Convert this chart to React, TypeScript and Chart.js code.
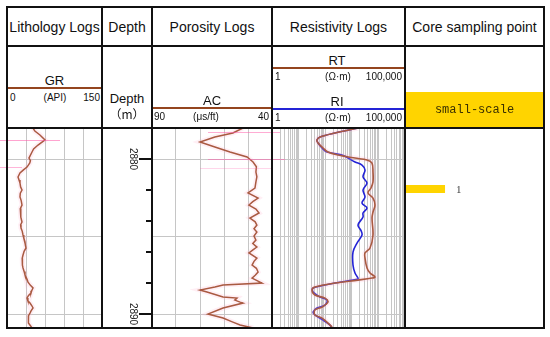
import React, { useEffect, useRef } from 'react';
import { Chart, registerables } from 'chart.js';

Chart.register(...registerables);

// ---------- data ----------
const DEPTH_TOP = 2878;
const DEPTH_BOTTOM = 2890.9;
const depthGrid = [2880, 2885, 2890];
const depthTicks = [2880, 2882, 2884, 2886, 2888, 2890];
const depthLabels = [2880, 2890];

const grGrid = [30, 60, 90, 120];
const acGrid = [50, 60, 70, 80];
const resDecades = [1, 10, 100, 1000, 10000];
const resSteps = [1, 2, 3, 4, 5, 6, 7, 8, 9];

const grDepth = [2878.0, 2878.2, 2878.45, 2878.77, 2879.1, 2879.35, 2879.55, 2879.94, 2880.1, 2880.26, 2880.52, 2880.7, 2880.9, 2881.16, 2881.35, 2881.55, 2881.8, 2882.0, 2882.2, 2882.45, 2882.7, 2882.97, 2883.2, 2883.48, 2883.75, 2884.06, 2884.25, 2884.45, 2884.65, 2884.9, 2885.1, 2885.35, 2885.55, 2885.74, 2885.95, 2886.19, 2886.4, 2886.65, 2886.85, 2887.03, 2887.25, 2887.48, 2887.7, 2887.94, 2888.15, 2888.32, 2888.5, 2888.65, 2888.8, 2888.97, 2889.15, 2889.29, 2889.45, 2889.61, 2889.8, 2889.94, 2890.1, 2890.26, 2890.45, 2890.58, 2890.75, 2890.9];
const grValue = [41, 44, 52, 60, 49, 42, 39.5, 34.7, 37, 36, 31.6, 26, 20.5, 17.4, 19, 20.5, 21.5, 23.7, 21, 20.5, 22.5, 23.7, 21, 22.1, 21.5, 23.7, 21.5, 22.1, 24, 25.3, 26.5, 28.4, 29, 30, 27, 25.3, 24, 23.7, 25, 25.3, 27, 28.4, 31, 33.2, 37, 41.1, 39, 37.9, 34, 31.6, 33, 36.3, 39, 41.1, 38, 36.3, 34, 33.2, 33.5, 34.7, 37, 39.5];

const acDepth = [2878.0, 2878.32, 2878.58, 2878.9, 2879.23, 2879.55, 2879.87, 2880.19, 2880.5, 2880.84, 2881.15, 2881.48, 2881.87, 2882.19, 2882.52, 2882.75, 2882.97, 2883.23, 2883.48, 2883.81, 2884.05, 2884.26, 2884.5, 2884.71, 2884.97, 2885.23, 2885.45, 2885.68, 2885.85, 2886.06, 2886.39, 2886.6, 2886.84, 2887.05, 2887.29, 2887.5, 2887.68, 2888.0, 2888.13, 2888.26, 2888.45, 2888.58, 2888.9, 2888.97, 2889.1, 2889.23, 2889.29, 2889.61, 2890.0, 2890.26, 2890.52, 2890.71, 2890.9];
const acValue = [52.1, 56.3, 63.8, 70.0, 63.8, 57.5, 50.4, 47.9, 46.5, 46.7, 46.3, 46.7, 47.1, 50.0, 45.8, 48, 49.6, 46.7, 45.4, 49.2, 47, 46.3, 47.5, 46.3, 47.5, 46.7, 48, 46.3, 47.8, 49.6, 46.3, 47.5, 48.3, 46.5, 45.8, 47, 48.3, 44.2, 60.4, 63.8, 70.0, 67.1, 60.4, 54.6, 55.5, 53.3, 52.1, 60.4, 66.7, 60.4, 56.3, 53.3, 47.9];

const rtDepth = [2878.0, 2878.32, 2878.58, 2878.77, 2878.97, 2879.29, 2879.55, 2879.74, 2879.94, 2880.06, 2880.26, 2880.84, 2881.48, 2881.87, 2882.19, 2882.52, 2882.97, 2883.42, 2883.81, 2884.9, 2885.74, 2886.06, 2886.39, 2887.03, 2887.35, 2887.61, 2887.68, 2887.81, 2888.0, 2888.26, 2888.45, 2888.77, 2888.97, 2889.23, 2889.55, 2889.74, 2890.06, 2890.26, 2890.58, 2890.84];
const rtValue = [1710, 234, 64, 49, 54, 83, 127, 303, 1320, 3730, 5750, 6270, 6270, 5270, 4060, 6270, 7450, 6270, 5750, 6270, 4830, 3140, 3140, 3730, 4830, 7450, 5750, 1710, 234, 41, 32, 41, 98, 127, 76, 41, 41, 76, 127, 180];

const riDepth = [2878.0, 2878.32, 2878.58, 2878.77, 2878.97, 2879.29, 2879.55, 2879.74, 2880.19, 2880.39, 2880.71, 2881.16, 2881.55, 2882.0, 2882.45, 2882.84, 2883.16, 2883.48, 2883.74, 2884.26, 2884.6, 2884.9, 2885.42, 2886.0, 2886.84, 2887.35, 2887.68, 2887.74, 2888.0, 2888.32, 2888.58, 2888.9, 2889.1, 2889.42, 2889.61, 2889.87, 2890.06, 2890.39, 2890.71, 2890.9];
const riValue = [1710, 234, 64, 49, 54, 76, 117, 428, 1320, 2420, 3140, 2640, 3730, 2640, 3140, 2420, 3730, 2640, 2640, 1710, 2200, 2420, 1570, 1110, 1110, 1320, 1710, 1710, 234, 35, 35, 64, 117, 98, 49, 35, 41, 83, 151, 180];

const coreDepth = [2881.94];
const coreLabel = ['1'];

// ---------- styles ----------
const COLS = [7, 102, 152, 272, 405, 544];
const ROWS = [7, 46, 128, 328];
const TRACK_TOP = ROWS[2];
const TRACK_H = ROWS[3] - ROWS[2];
const GRID = '#c6c6c6';
const BROWN = '#94451f';
const BLUE = '#2424d6';
const HALO = 'rgba(255,175,205,0.2)';
const YELLOW = '#ffd400';
const SANS = "'Liberation Sans', Arial, sans-serif";
const CORE_BAR_FRACTION = 0.288;

const pts = (xs: number[], ys: number[]) => xs.map((x, i) => ({ x, y: ys[i] }));

const yScale = (showGrid: boolean) => ({
  type: 'linear',
  min: DEPTH_TOP,
  max: DEPTH_BOTTOM,
  reverse: true,
  afterBuildTicks: (s: any) => {
    s.ticks = depthGrid.map((v) => ({ value: v }));
  },
  afterFit: (s: any) => {
    s.width = 0;
  },
  ticks: { display: false },
  grid: { display: showGrid, color: GRID, lineWidth: 1, drawTicks: false },
  border: { display: false },
});

const xScale = (type: string, min: number, max: number, ticks: number[], reverse = false, showGrid = true) => ({
  type,
  min,
  max,
  reverse,
  position: 'bottom',
  afterBuildTicks: (s: any) => {
    s.ticks = ticks.map((v) => ({ value: v }));
  },
  afterFit: (s: any) => {
    s.height = 0;
  },
  ticks: { display: false },
  grid: { display: showGrid, color: GRID, lineWidth: 1, drawTicks: false },
  border: { display: false },
});

const baseOptions = (scales: any, plugins: any[] = []) => ({
  options: {
    responsive: false,
    animation: false,
    events: [],
    layout: { padding: 0 },
    plugins: { legend: { display: false }, tooltip: { enabled: false } },
    scales,
  },
  plugins,
});

const curve = (data: any, color: string, width: number, tension: number) => ({
  data,
  showLine: true,
  borderColor: color,
  borderWidth: width,
  pointRadius: 0,
  tension,
  fill: false,
});

const withHalo = (data: any, color: string, tension: number) => [
  curve(data, HALO, 5, tension),
  curve(data, color, 1.5, tension),
];

const resTicks = resDecades.flatMap((d) => resSteps.map((s) => s * d));

function makeGR() {
  const data = pts(grValue, grDepth);
  return {
    type: 'scatter',
    data: { datasets: withHalo(data, BROWN, 0) },
    ...baseOptions({ x: xScale('linear', 0, 150, grGrid), y: yScale(true) }),
  };
}

function makeAC() {
  const data = pts(acValue, acDepth);
  return {
    type: 'scatter',
    data: { datasets: withHalo(data, BROWN, 0) },
    ...baseOptions({ x: xScale('linear', 40, 90, acGrid, true), y: yScale(true) }),
  };
}

function makeRes() {
  const rt = pts(rtValue, rtDepth);
  const ri = pts(riValue, riDepth);
  return {
    type: 'scatter',
    data: {
      datasets: [
        curve(rt, HALO, 5, 0.35),
        curve(rt, BROWN, 1.6, 0.35),
        curve(ri, BLUE, 1.6, 0.35),
      ],
    },
    ...baseOptions({ x: xScale('logarithmic', 1, 100000, resTicks), y: yScale(true) }),
  };
}

const depthPlugin = {
  id: 'depthTicks',
  afterDraw(chart: any) {
    const ctx = chart.ctx;
    const y = chart.scales.y;
    const right = chart.width;
    ctx.save();
    ctx.strokeStyle = '#111';
    ctx.lineWidth = 2;
    depthTicks.forEach((d) => {
      const py = Math.round(y.getPixelForValue(d));
      const len = depthLabels.includes(d) ? 13 : 6;
      ctx.beginPath();
      ctx.moveTo(right - len, py);
      ctx.lineTo(right, py);
      ctx.stroke();
    });
    ctx.fillStyle = '#222';
    ctx.font = `10px ${SANS}`;
    ctx.textAlign = 'center';
    ctx.textBaseline = 'middle';
    depthLabels.forEach((d) => {
      const py = y.getPixelForValue(d);
      ctx.save();
      ctx.translate(31, py);
      ctx.rotate(Math.PI / 2);
      ctx.fillText(String(d), 0, 0);
      ctx.restore();
    });
    ctx.restore();
  },
};

function makeDepth() {
  return {
    type: 'scatter',
    data: { datasets: [] },
    ...baseOptions({ x: xScale('linear', 0, 1, [], false, false), y: yScale(false) }, [depthPlugin]),
  };
}

const corePlugin = {
  id: 'coreLabels',
  afterDatasetsDraw(chart: any) {
    const ctx = chart.ctx;
    const x = chart.scales.x;
    const y = chart.scales.y;
    ctx.save();
    ctx.fillStyle = '#444';
    ctx.font = "11px 'Liberation Serif', serif";
    ctx.textAlign = 'left';
    ctx.textBaseline = 'middle';
    coreDepth.forEach((d, i) => {
      ctx.fillText(coreLabel[i], x.getPixelForValue(CORE_BAR_FRACTION) + 11, y.getPixelForValue(d) + 1);
    });
    ctx.restore();
  },
};

function makeCore() {
  return {
    type: 'scatter',
    data: {
      datasets: coreDepth.map((d) => ({
        data: [
          { x: 0, y: d },
          { x: CORE_BAR_FRACTION, y: d },
        ],
        showLine: true,
        borderColor: YELLOW,
        borderWidth: 8,
        borderCapStyle: 'butt',
        pointRadius: 0,
      })),
    },
    ...baseOptions({ x: xScale('linear', 0, 1, [], false, false), y: yScale(false) }, [corePlugin]),
  };
}

function ChartBox({ left, width, make }: { left: number; width: number; make: () => any }) {
  const ref = useRef<HTMLCanvasElement>(null);
  useEffect(() => {
    const chart = new Chart(ref.current as HTMLCanvasElement, make());
    return () => chart.destroy();
  }, []);
  return (
    <canvas
      ref={ref}
      width={width}
      height={TRACK_H}
      style={{ position: 'absolute', left, top: TRACK_TOP, width, height: TRACK_H, display: 'block' }}
    />
  );
}

function Txt({ x, y, text, size = 11, align = 'center', font = SANS, color = '#111' }: any) {
  const tx = align === 'center' ? '-50%' : align === 'right' ? '-100%' : '0';
  return (
    <div
      style={{
        position: 'absolute',
        left: x,
        top: y,
        transform: `translate(${tx}, -50%)`,
        fontSize: size,
        fontFamily: font,
        color,
        whiteSpace: 'nowrap',
        lineHeight: 1,
      }}
    >
      {text}
    </div>
  );
}

function HLine({ x1, x2, y, color, w = 1 }: any) {
  return <div style={{ position: 'absolute', left: x1, top: y - w / 2, width: x2 - x1, height: w, background: color }} />;
}

export default function App() {
  const [c0, c1, c2, c3, c4, c5] = COLS;
  const mid = (a: number, b: number) => (a + b) / 2;
  return (
    <div
      style={{
        position: 'absolute',
        left: 0,
        top: 0,
        width: 550,
        height: 337,
        background: '#fff',
        overflow: 'hidden',
        fontFamily: SANS,
      }}
    >
      <ChartBox left={c0} width={c1 - c0} make={makeGR} />
      <ChartBox left={c1} width={c2 - c1} make={makeDepth} />
      <ChartBox left={c2} width={c3 - c2} make={makeAC} />
      <ChartBox left={c3} width={c4 - c3} make={makeRes} />
      <ChartBox left={c4} width={c5 - c4} make={makeCore} />

      {/* faint highlight artifacts */}
      <HLine x1={0} x2={60} y={140} color="rgba(255,90,170,0.55)" />
      <HLine x1={0} x2={22} y={167} color="rgba(255,90,170,0.45)" />
      <HLine x1={208} x2={280} y={132} color="rgba(255,90,170,0.5)" />
      <HLine x1={208} x2={285} y={159} color="rgba(255,90,170,0.5)" />
      <HLine x1={200} x2={272} y={168} color="rgba(255,90,170,0.25)" />

      {/* header row 1 */}
      <Txt x={mid(c0, c1)} y={27} text="Lithology Logs" size={14} />
      <Txt x={mid(c1, c2)} y={27} text="Depth" size={14} />
      <Txt x={mid(c2, c3)} y={27} text="Porosity Logs" size={14} />
      <Txt x={mid(c3, c4)} y={27} text="Resistivity Logs" size={14} />
      <Txt x={mid(c4, c5)} y={27} text="Core sampling point" size={14} />

      {/* GR header */}
      <Txt x={mid(c0, c1)} y={80} text="GR" size={13} />
      <HLine x1={c0} x2={c1} y={88} color={BROWN} w={2} />
      <Txt x={c0 + 3} y={98} text="0" size={10} align="left" />
      <Txt x={55} y={98} text="(API)" size={10} />
      <Txt x={c1 - 2} y={98} text="150" size={10} align="right" />

      {/* Depth header */}
      <Txt x={mid(c1, c2)} y={98} text="Depth" size={13} />
      <Txt x={mid(c1, c2)} y={114} text="（m）" size={12} font="'Noto Sans CJK SC', sans-serif" />

      {/* AC header */}
      <Txt x={mid(c2, c3)} y={100} text="AC" size={13} />
      <HLine x1={c2} x2={c3} y={108} color={BROWN} w={2} />
      <Txt x={c2 + 2} y={117} text="90" size={10} align="left" />
      <Txt x={206} y={117} text="(μs/ft)" size={10} />
      <Txt x={c3 - 3} y={117} text="40" size={10} align="right" />

      {/* RT header */}
      <Txt x={337} y={60} text="RT" size={13} />
      <HLine x1={c3} x2={c4} y={68} color={BROWN} w={2} />
      <Txt x={c3 + 3} y={77} text="1" size={10} align="left" />
      <Txt x={338} y={77} text="(Ω·m)" size={10} />
      <Txt x={c4 - 3} y={77} text="100,000" size={10} align="right" />

      {/* RI header */}
      <Txt x={337} y={101} text="RI" size={13} />
      <HLine x1={c3} x2={c4} y={109} color={BLUE} w={2} />
      <Txt x={c3 + 3} y={118} text="1" size={10} align="left" />
      <Txt x={338} y={118} text="(Ω·m)" size={10} />
      <Txt x={c4 - 3} y={118} text="100,000" size={10} align="right" />

      {/* core header */}
      <div style={{ position: 'absolute', left: c4 + 1, top: 92, width: c5 - c4 - 2, height: ROWS[2] - 92, background: YELLOW }} />
      <Txt x={mid(c4, c5)} y={110} text="small-scale" size={12} font="'Liberation Mono', monospace" color="#3a3000" />

      {/* frame lines */}
      {COLS.map((x) => (
        <div key={'v' + x} style={{ position: 'absolute', left: x - 1, top: ROWS[0] - 1, width: 2, height: ROWS[3] - ROWS[0] + 2, background: '#111' }} />
      ))}
      {ROWS.map((y) => (
        <div key={'h' + y} style={{ position: 'absolute', left: COLS[0] - 1, top: y - 1, width: COLS[5] - COLS[0] + 2, height: 2, background: '#111' }} />
      ))}
    </div>
  );
}
